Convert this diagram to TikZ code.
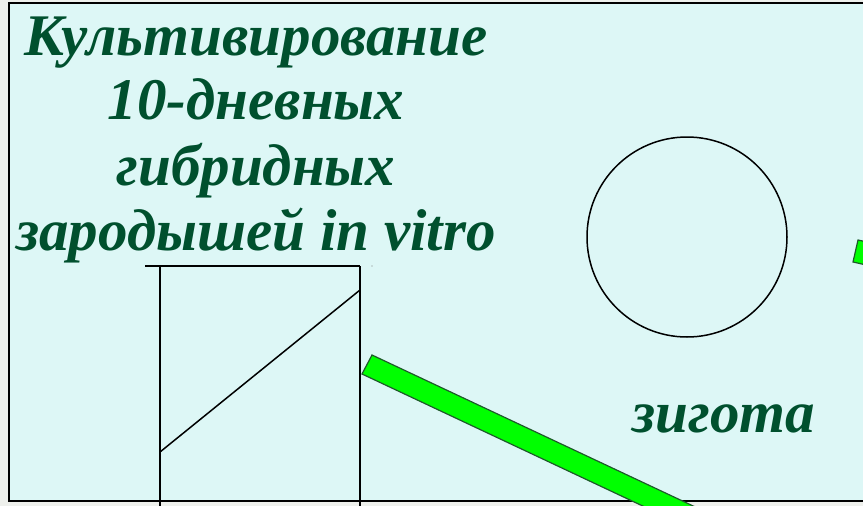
\documentclass[tikz,border=0pt]{standalone}
\usepackage{fontspec}
\setmainfont{Liberation Serif}
\definecolor{outerbg}{HTML}{EEF0EC}
\definecolor{panel}{HTML}{DDF7F6}
\definecolor{txtgreen}{HTML}{00502E}
\definecolor{bargreen}{HTML}{00FF00}
\definecolor{baredge}{HTML}{1E5A2A}
\tikzset{
  title/.style={anchor=base, text=txtgreen, font=\fontsize{59}{65}\selectfont\bfseries\itshape, inner sep=0pt},
  thinline/.style={draw=black, line width=1.5pt},
  bar/.style={fill=bargreen, draw=baredge, line width=1.2pt, line join=miter}
}
\begin{document}
\begin{tikzpicture}[x=1pt,y=-1pt]
\useasboundingbox (0,0) rectangle (863,506);
\clip (0,0) rectangle (863,506);
\fill[outerbg] (0,0) rectangle (863,506);
\filldraw[fill=panel, draw=black, line width=2pt] (9,3) rectangle (920,501);
% text
\node[title] (t1) at (256,55) {Культивирование};
\node[title] (t2) at (256,119) {10-дневных};
\node[title] (t3) at (256,185) {гибридных};
\node[title] (t4) at (256,250) {зародышей in vitro};
\node[title] (zig) at (724,432) {зигота};
% box with diagonal
\coordinate (tl0) at (145,266);
\coordinate (tl) at (160,266);
\coordinate (tr) at (360,266);
\coordinate (bl) at (160,510);
\coordinate (br) at (360,510);
\coordinate (d1) at (160,452);
\coordinate (d2) at (360,290);
\draw[thinline] (tl0) -- (tr);
\draw[thinline] (tl) -- (bl);
\draw[thinline] (tr) -- (br);
\draw[thinline] (d1) -- (d2);
\fill[gray] (372,266) circle (0.6);
% circle
\node[draw=black, line width=1.5pt, circle, minimum size=200pt, inner sep=0pt] (cell) at (687,237) {};
% green bars
\draw[bar] (362,374) -- (372,355) -- (825,568) -- (815,587) -- cycle;
\draw[bar] (853,262) -- (858,240) -- (955,262) -- (950,284) -- cycle;
\end{tikzpicture}
\end{document}
